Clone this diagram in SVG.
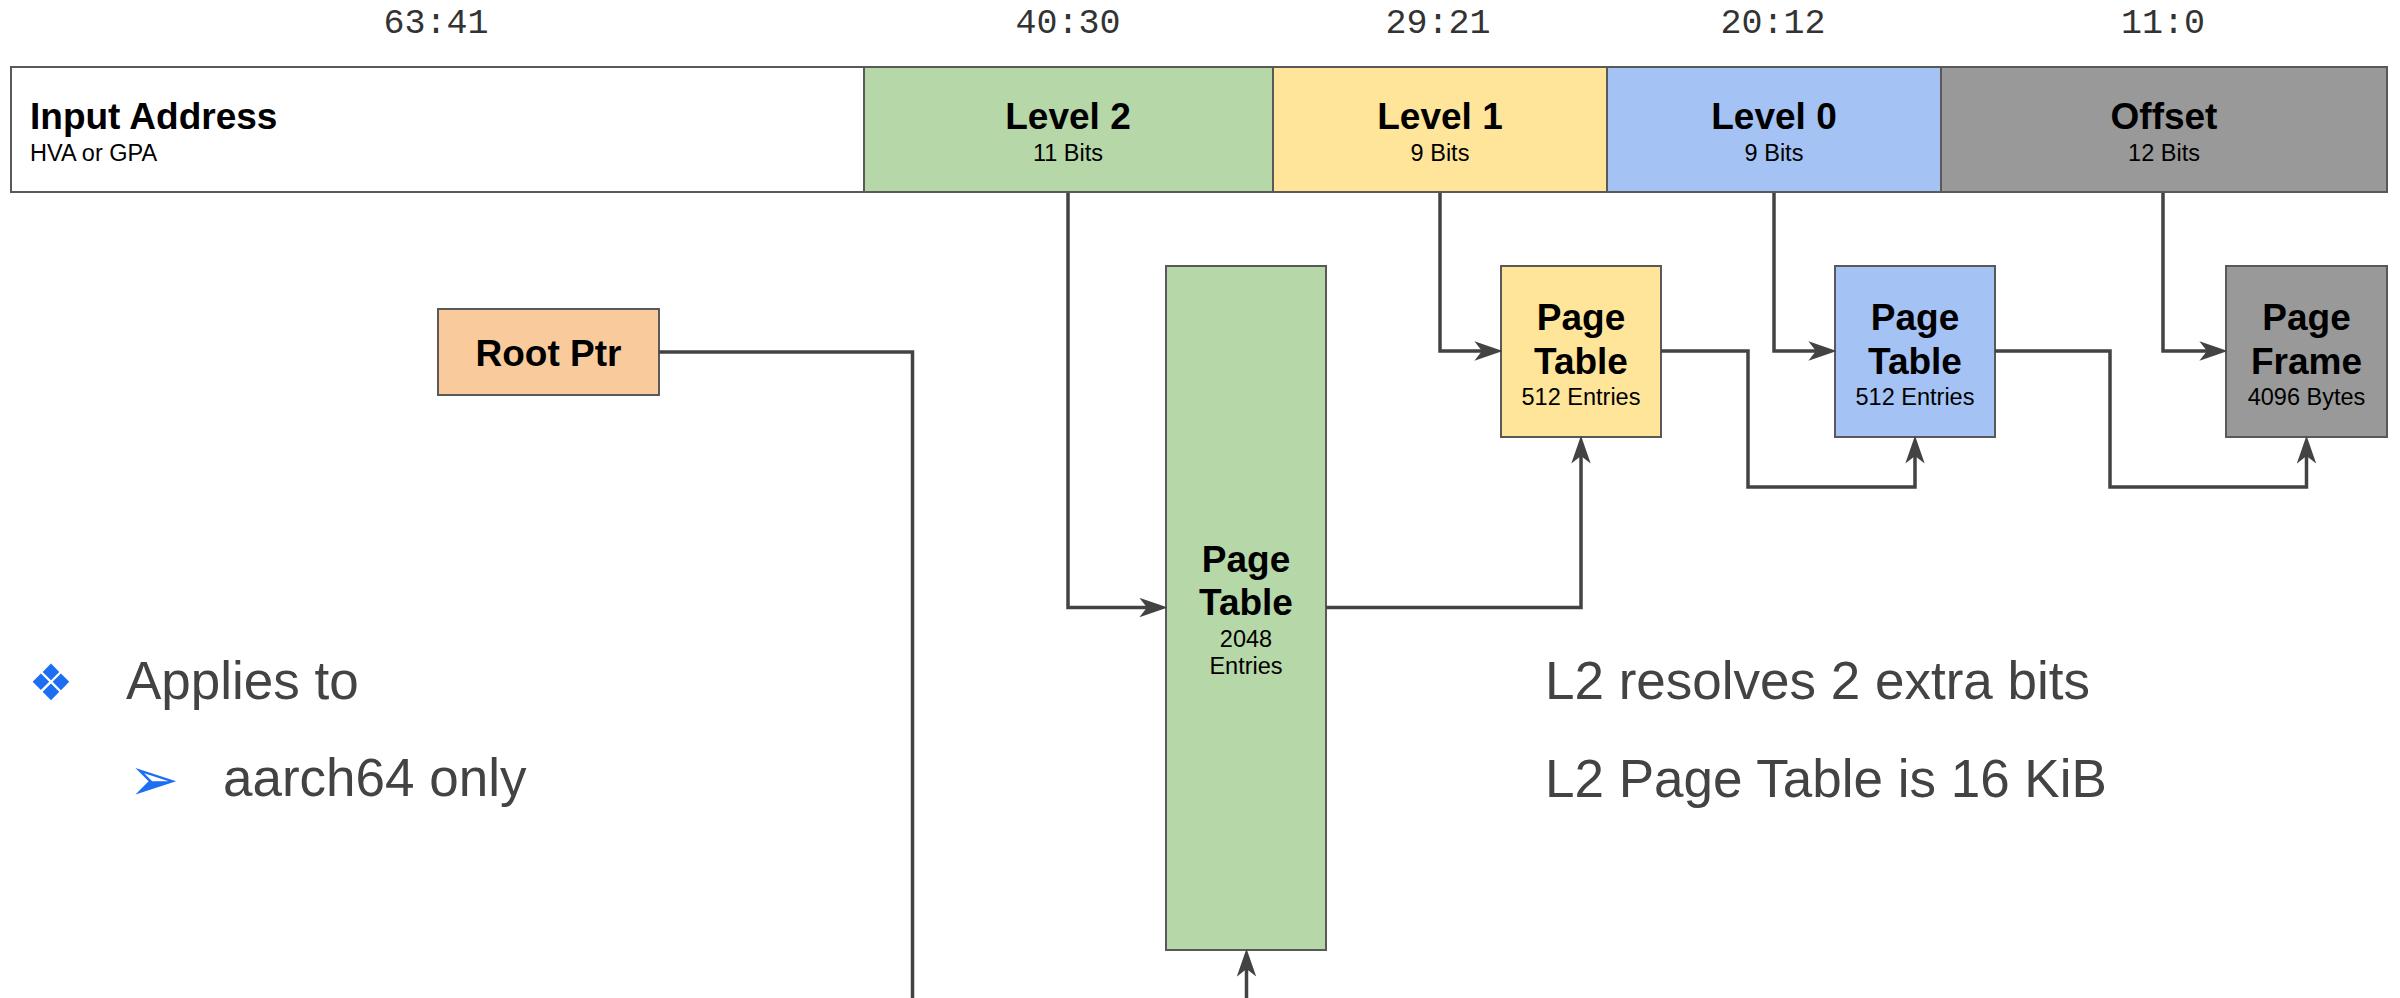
<svg xmlns="http://www.w3.org/2000/svg" width="2400" height="998" viewBox="0 0 2400 998">
  <style>
    .box { stroke: #595959; stroke-width: 2; }
    .bits { font-family: "Liberation Mono", "DejaVu Sans Mono", monospace; font-size: 35px; fill: #333333; text-anchor: middle; }
    .title { font-family: "Liberation Sans", Arial, sans-serif; font-size: 37px; font-weight: bold; fill: #000000; text-anchor: middle; }
    .sub { font-family: "Liberation Sans", Arial, sans-serif; font-size: 23.5px; fill: #000000; text-anchor: middle; }
    .body { font-family: "Liberation Sans", Arial, sans-serif; font-size: 53px; fill: #434343; }
    .bullet { font-family: "DejaVu Sans", sans-serif; fill: #1c6ef2; text-anchor: middle; }
    .wire { fill: none; stroke: #434343; stroke-width: 3.5; stroke-linejoin: miter; }
    .arrow { marker-end: url(#head); }
  </style>
  <defs>
    <marker id="head" markerUnits="userSpaceOnUse" markerWidth="28" markerHeight="20" viewBox="0 0 26 18" refX="8" refY="9" orient="auto">
      <path d="M0,0 L26,9 L0,18 L7,9 Z" fill="#434343"/>
    </marker>
  </defs>

  <rect width="2400" height="998" fill="#ffffff"/>

  <!-- bit-range labels above the address -->
  <g id="bit-ranges">
    <text class="bits" x="436" y="33">63:41</text>
    <text class="bits" x="1068" y="33">40:30</text>
    <text class="bits" x="1438" y="33">29:21</text>
    <text class="bits" x="1773" y="33">20:12</text>
    <text class="bits" x="2163" y="33">11:0</text>
  </g>

  <!-- input address split into fields -->
  <g id="input-address">
    <rect class="box" x="11" y="67" width="853" height="125" fill="#ffffff"/>
    <text class="title" x="30" y="129" style="text-anchor:start">Input Address</text>
    <text class="sub" x="30" y="161" style="text-anchor:start">HVA or GPA</text>
  </g>
  <g id="field-level2">
    <rect class="box" x="864" y="67" width="409" height="125" fill="#b6d7a8"/>
    <text class="title" x="1068" y="129">Level 2</text>
    <text class="sub" x="1068" y="161">11 Bits</text>
  </g>
  <g id="field-level1">
    <rect class="box" x="1273" y="67" width="334" height="125" fill="#ffe599"/>
    <text class="title" x="1440" y="129">Level 1</text>
    <text class="sub" x="1440" y="161">9 Bits</text>
  </g>
  <g id="field-level0">
    <rect class="box" x="1607" y="67" width="334" height="125" fill="#a4c2f4"/>
    <text class="title" x="1774" y="129">Level 0</text>
    <text class="sub" x="1774" y="161">9 Bits</text>
  </g>
  <g id="field-offset">
    <rect class="box" x="1941" y="67" width="446" height="125" fill="#999999"/>
    <text class="title" x="2164" y="129">Offset</text>
    <text class="sub" x="2164" y="161">12 Bits</text>
  </g>

  <!-- translation structures -->
  <g id="root-ptr">
    <rect class="box" x="438" y="309" width="221" height="86" fill="#f9cb9c"/>
    <text class="title" x="548.5" y="366">Root Ptr</text>
  </g>
  <g id="l2-table">
    <rect class="box" x="1166" y="266" width="160" height="684" fill="#b6d7a8"/>
    <text class="title" x="1246" y="572">Page</text>
    <text class="title" x="1246" y="615">Table</text>
    <text class="sub" x="1246" y="647">2048</text>
    <text class="sub" x="1246" y="674">Entries</text>
  </g>
  <g id="l1-table">
    <rect class="box" x="1501" y="266" width="160" height="171" fill="#ffe599"/>
    <text class="title" x="1581" y="330">Page</text>
    <text class="title" x="1581" y="374">Table</text>
    <text class="sub" x="1581" y="405">512 Entries</text>
  </g>
  <g id="l0-table">
    <rect class="box" x="1835" y="266" width="160" height="171" fill="#a4c2f4"/>
    <text class="title" x="1915" y="330">Page</text>
    <text class="title" x="1915" y="374">Table</text>
    <text class="sub" x="1915" y="405">512 Entries</text>
  </g>
  <g id="page-frame">
    <rect class="box" x="2226" y="266" width="161" height="171" fill="#999999"/>
    <text class="title" x="2306.5" y="330">Page</text>
    <text class="title" x="2306.5" y="374">Frame</text>
    <text class="sub" x="2306.5" y="405">4096 Bytes</text>
  </g>

  <!-- connectors -->
  <g id="connectors">
    <path class="wire" d="M659,352 H912.5 V998"/>
    <path class="wire arrow" d="M1068,193 V607.5 H1148"/>
    <path class="wire arrow" d="M1326,607.5 H1581 V455"/>
    <path class="wire arrow" d="M1246.5,998 V968"/>
    <path class="wire arrow" d="M1440,193 V351 H1483"/>
    <path class="wire arrow" d="M1661,351 H1748 V487 H1915 V455"/>
    <path class="wire arrow" d="M1774,193 V351 H1817"/>
    <path class="wire arrow" d="M1995,351 H2110 V487 H2306.5 V455"/>
    <path class="wire arrow" d="M2163,193 V351 H2208"/>
  </g>

  <!-- notes -->
  <g id="notes-left">
    <text class="bullet" x="51" y="700" font-size="50">❖</text>
    <text class="body" x="126" y="699">Applies to</text>
    <text class="bullet" x="154" y="800" font-size="60">➢</text>
    <text class="body" x="223" y="796">aarch64 only</text>
  </g>
  <g id="notes-right">
    <text class="body" x="1545" y="699">L2 resolves 2 extra bits</text>
    <text class="body" x="1545" y="797">L2 Page Table is 16 KiB</text>
  </g>
</svg>
